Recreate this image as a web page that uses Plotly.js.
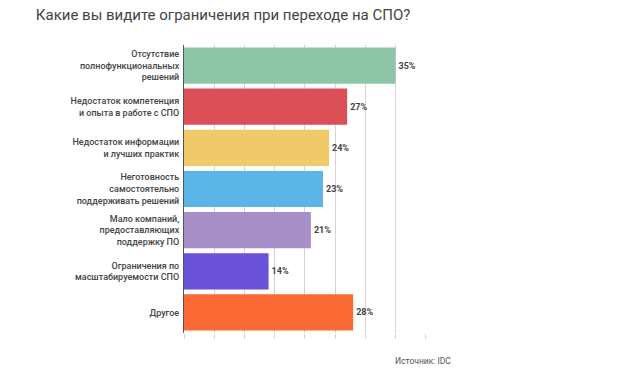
<!DOCTYPE html>
<html><head><meta charset="utf-8">
<script src="https://cdn.plot.ly/plotly-3.0.1.min.js"></script>
<style>html,body{margin:0;padding:0;background:#fff;}#chart{width:618px;height:374px;}</style>
</head><body><div id="chart"></div>
<script>
const categories = [
  "Отсутствие<br>полнофункциональных<br>решений",
  "Недостаток компетенция<br>и опыта в работе с СПО",
  "Недостаток информации<br>и лучших практик",
  "Неготовность<br>самостоятельно<br>поддерживать решений",
  "Мало компаний,<br>предоставляющих<br>поддержку ПО",
  "Ограничения по<br>масштабируемости СПО",
  "Другое"
];
const values = [35, 27, 24, 23, 21, 14, 28];
const valueLabels = ["35%", "27%", "24%", "23%", "21%", "14%", "28%"];
const barColors = ["#8dc5a6", "#db4f56", "#f0c96b", "#5bb5e6", "#a78fc7", "#6a51d9", "#fb6934"];

const trace = {
  type: 'bar', orientation: 'h',
  y: categories, x: values,
  text: valueLabels, textposition: 'outside', cliponaxis: false,
  textfont: {family: 'Roboto', size: 9, color: '#444', weight: 700},
  marker: {color: barColors},
  hoverinfo: 'none'
};
const layout = {
  width: 618, height: 374,
  margin: {l: 184, r: 192, t: 45, b: 41},
  paper_bgcolor: '#fff', plot_bgcolor: '#fff',
  bargap: 0.12,
  showlegend: false,
  title: {text: 'Какие вы видите ограничения при переходе на СПО?', x: 0.058, xanchor: 'left', y: 0.96, yanchor: 'middle',
          font: {family: 'Roboto', size: 15, color: '#444'}},
  xaxis: {range: [0, 40.05], dtick: 5, tick0: 0, showgrid: true, gridcolor: '#d4d4d4', gridwidth: 1,
          showticklabels: false, ticks: 'outside', ticklen: 5, tickcolor: '#d4d4d4', zeroline: false, fixedrange: true},
  yaxis: {autorange: 'reversed', showline: true, linecolor: '#555', linewidth: 1, ticks: '',
          tickfont: {family: 'Roboto', size: 9, color: '#444', weight: 500}, ticklabelstandoff: 2, fixedrange: true},
  annotations: [{text: 'Источник: IDC', xref: 'paper', yref: 'paper', x: 0.862, y: -0.097, xanchor: 'left', yanchor: 'middle',
                 showarrow: false, font: {family: 'Roboto', size: 8.5, color: '#555'}}]
};
Plotly.newPlot('chart', [trace], layout, {displayModeBar: false, staticPlot: true});
</script></body></html>
